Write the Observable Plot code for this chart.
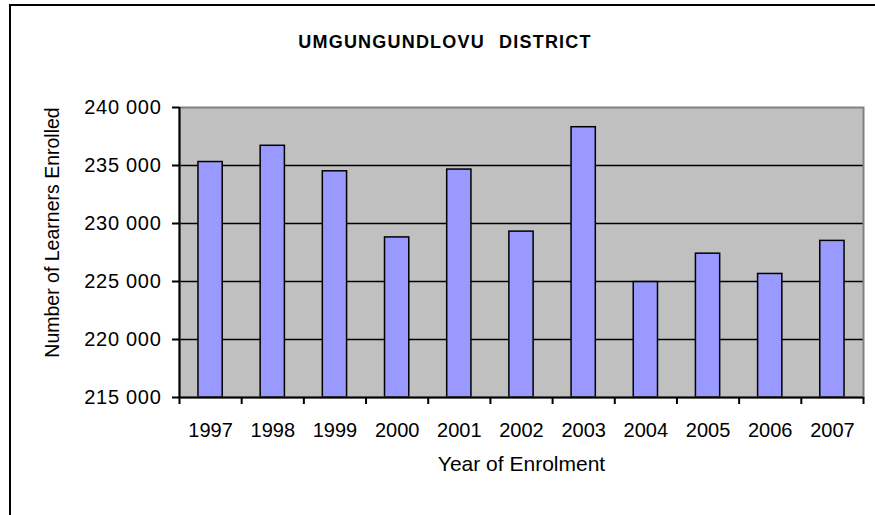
<!DOCTYPE html>
<html>
<head>
<meta charset="utf-8">
<script src="https://cdn.jsdelivr.net/npm/d3@7"></script>
<script src="https://cdn.jsdelivr.net/npm/@observablehq/plot@0.6"></script>
<style>
  html, body { margin: 0; padding: 0; background: #fff; }
  #wrap { position: relative; width: 875px; height: 515px; overflow: hidden; }
  #border { position: absolute; left: 9px; top: 4px; width: 900px; height: 600px;
            border-left: 2px solid #000; border-top: 2px solid #000; pointer-events: none; }
  svg { font-family: "Liberation Sans", Arial, sans-serif; }
</style>
</head>
<body>
<div id="wrap"><div id="border"></div></div>
<script>
const years = [1997, 1998, 1999, 2000, 2001, 2002, 2003, 2004, 2005, 2006, 2007];
const enrolled = [235300, 236700, 234500, 228800, 234650, 229300, 238300, 224950, 227400, 225650, 228500];
const yTicks = [215000, 220000, 225000, 230000, 235000, 240000];
const titleText = "UMGUNGUNDLOVU DISTRICT";
const yTitle = "Number of Learners Enrolled";
const xTitle = "Year of Enrolment";

const data = years.map((y, i) => ({year: y, value: enrolled[i]}));
const yMin = yTicks[0], yMax = yTicks[yTicks.length - 1];
const half = 0.195;
const boundaries = years.map(y => y - 0.5).concat([years[years.length - 1] + 0.5]);
const fmt = d3.formatLocale({thousands: " ", grouping: [3], decimal: ".", currency: ["", ""]}).format(",");

const chart = Plot.plot({
  width: 875,
  height: 515,
  marginLeft: 179,
  marginRight: 12,
  marginTop: 107,
  marginBottom: 118,
  style: {fontFamily: '"Liberation Sans", Arial, sans-serif', background: "transparent", color: "#000"},
  x: {domain: [years[0] - 0.5, years[years.length - 1] + 0.5]},
  y: {domain: [yMin, yMax]},
  marks: [
    Plot.frame({fill: "#c0c0c0", stroke: null}),
    Plot.ruleY(yTicks.slice(1, -1), {stroke: "#000", strokeWidth: 1.5}),
    Plot.rect(data, {
      x1: d => d.year - half, x2: d => d.year + half,
      y1: () => yMin, y2: "value",
      fill: "#9999ff", stroke: "#000", strokeWidth: 1.5
    }),
    Plot.frame({stroke: "#808080", strokeWidth: 2}),
    Plot.ruleX([boundaries[0]], {stroke: "#000", strokeWidth: 2}),
    Plot.ruleY([yMin], {stroke: "#000", strokeWidth: 2}),
    Plot.axisY({ticks: yTicks, tickSize: 7, tickPadding: 11, tickFormat: fmt, fontSize: 20, label: null, strokeWidth: 2}),
    Plot.axisX({ticks: boundaries, tickSize: 7, tickFormat: () => "", label: null, strokeWidth: 2}),
    Plot.axisX({ticks: years, tickSize: 0, tickPadding: 25, tickFormat: d => String(d), fontSize: 20, label: null}),
    Plot.text([titleText], {frameAnchor: "top", textAnchor: "middle", dx: -76.5, dy: -72.5, text: d => d, fontSize: 18, fontWeight: "bold"}),
    Plot.text([yTitle], {frameAnchor: "left", textAnchor: "middle", dx: -126.5, dy: -20, rotate: -90, text: d => d, fontSize: 19.5}),
    Plot.text([xTitle], {frameAnchor: "bottom", textAnchor: "middle", dy: 73, text: d => d, fontSize: 21})
  ]
});
d3.select(chart).selectAll("text").filter(function() { return this.textContent === titleText; })
  .style("letter-spacing", "1.2px").style("word-spacing", "8px");
d3.select(chart).selectAll("text").filter(function() { return /^\d{3} 000$/.test(this.textContent); })
  .style("letter-spacing", "0.7px");
document.getElementById("wrap").appendChild(chart);
</script>
</body>
</html>
